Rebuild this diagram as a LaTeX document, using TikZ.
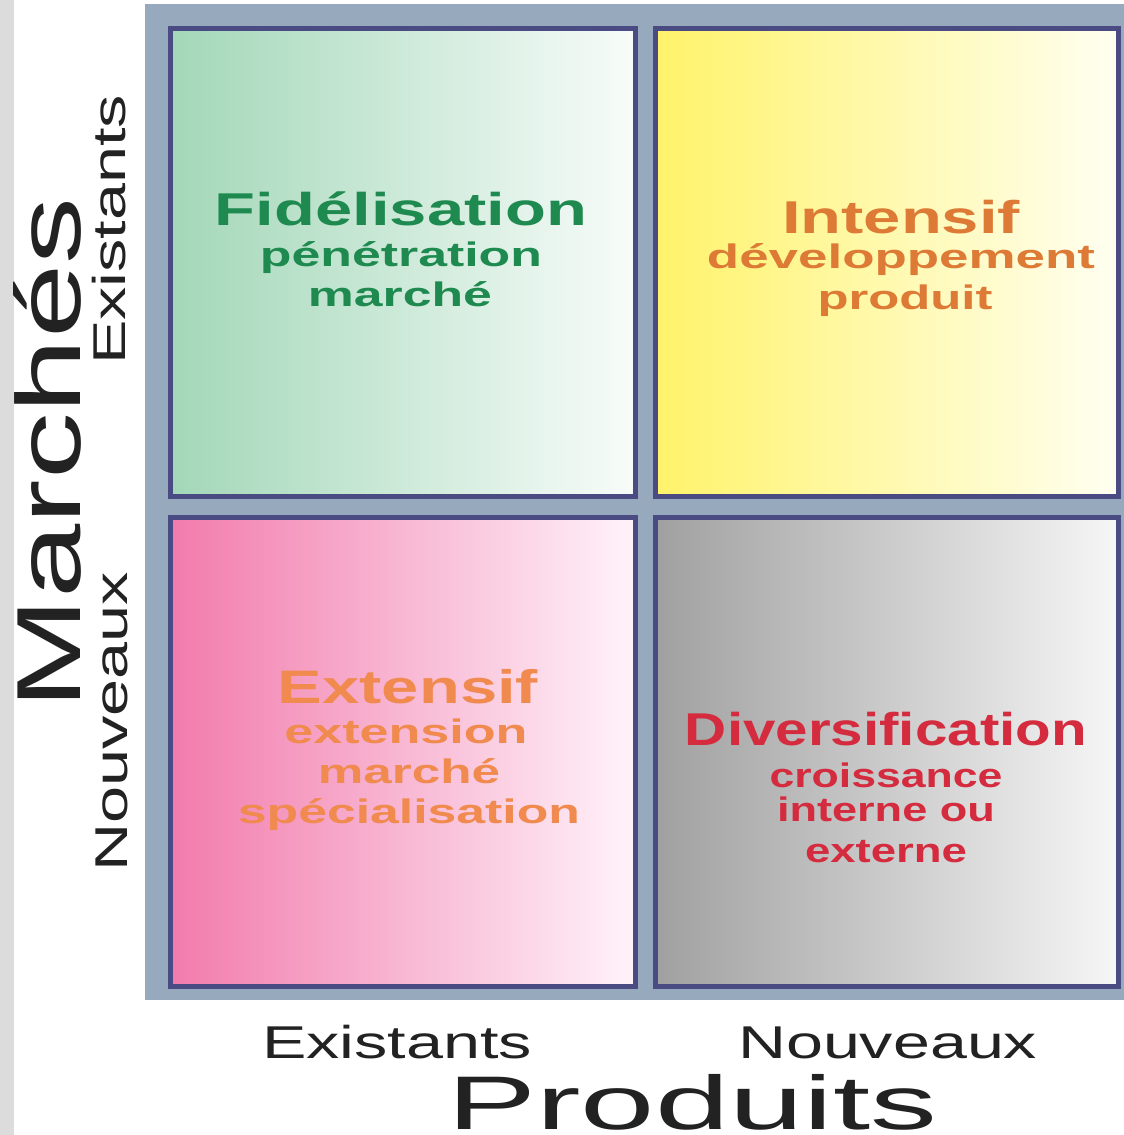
\documentclass[tikz,border=0pt]{standalone}
\usepackage{fontspec}
\setmainfont{Liberation Sans}
\usepackage{graphicx}
\definecolor{stripgrey}{HTML}{DCDCDC}
\definecolor{framecol}{HTML}{97A9BD}
\definecolor{edgecol}{HTML}{4B4B84}
\definecolor{tlL}{HTML}{A3D7B8}
\definecolor{tlR}{HTML}{F8FCFA}
\definecolor{trL}{HTML}{FFF36A}
\definecolor{trR}{HTML}{FFFFF2}
\definecolor{blL}{HTML}{F27BAC}
\definecolor{blR}{HTML}{FFF3FA}
\definecolor{brL}{HTML}{A0A0A0}
\definecolor{brR}{HTML}{F6F6F6}
\definecolor{greentxt}{HTML}{1E8A50}
\definecolor{orangetxt}{HTML}{DD7A35}
\definecolor{salmontxt}{HTML}{F08A4F}
\definecolor{redtxt}{HTML}{D42C3E}
\definecolor{labtxt}{HTML}{222222}
\newcommand{\fitw}[3]{\resizebox{#1pt}{\height}{\fontsize{#2}{#2}\selectfont #3}}
\begin{document}
\begin{tikzpicture}[x=1pt,y=-1pt,
  quad/.style={draw=edgecol, line width=5pt},
  lab/.style={inner sep=0pt, anchor=base},
  ttl/.style={lab, font=\bfseries},
  axis/.style={inner sep=0pt, text=labtxt}]
\useasboundingbox (0,0) rectangle (1124,1135);
\clip (0,0) rectangle (1124,1135);
\fill[white] (0,0) rectangle (1124,1135);
\fill[stripgrey] (0,0) rectangle (14,1135);
\fill[framecol] (145,4) rectangle (1124,1000);
% quadrants
\draw[quad, left color=tlL, right color=tlR] (170,28) rectangle (635,496);
\draw[quad, left color=trL, right color=trR] (655,28) rectangle (1118,496);
\draw[quad, left color=blL, right color=blR] (170,517) rectangle (635,986);
\draw[quad, left color=brL, right color=brR] (655,517) rectangle (1118,986);
% top-left
\node[ttl, text=greentxt] (tla) at (401,225) {\fitw{372}{46}{\bfseries Fidélisation}};
\node[ttl, text=greentxt] (tlb) at (401,266) {\fitw{282}{34}{\bfseries pénétration}};
\node[ttl, text=greentxt] (tlc) at (400,306) {\fitw{184}{34}{\bfseries marché}};
% top-right
\node[ttl, text=orangetxt] (tra) at (901,233) {\fitw{238}{46}{\bfseries Intensif}};
\node[ttl, text=orangetxt] (trb) at (901,268) {\fitw{388}{34}{\bfseries développement}};
\node[ttl, text=orangetxt] (trc) at (905,309) {\fitw{175}{34}{\bfseries produit}};
% bottom-left
\node[ttl, text=salmontxt] (bla) at (408,703) {\fitw{260}{47}{\bfseries Extensif}};
\node[ttl, text=salmontxt] (blb) at (406,743) {\fitw{243}{34}{\bfseries extension}};
\node[ttl, text=salmontxt] (blc) at (409,783) {\fitw{182}{34}{\bfseries marché}};
\node[ttl, text=salmontxt] (bld) at (409,823) {\fitw{342}{34}{\bfseries spécialisation}};
% bottom-right
\node[ttl, text=redtxt] (bra) at (886,745) {\fitw{402}{46}{\bfseries Diversification}};
\node[ttl, text=redtxt] (brb) at (886,787) {\fitw{233}{34}{\bfseries croissance}};
\node[ttl, text=redtxt] (brc) at (886,821) {\fitw{218}{34}{\bfseries interne ou}};
\node[ttl, text=redtxt] (brd) at (886,862) {\fitw{162}{34}{\bfseries externe}};
% axis labels, left
\node[axis, rotate=90, anchor=base west] (mk) at (80,710) {\fitw{512}{91}{Marchés}};
\node[axis, rotate=90, anchor=base west] (mex) at (125,365) {\fitw{270}{46}{Existants}};
\node[axis, rotate=90, anchor=base west] (mnv) at (127,872) {\fitw{300}{46}{Nouveaux}};
% axis labels, bottom
\node[axis, anchor=base west] (pex) at (262,1058) {\fitw{270}{46}{Existants}};
\node[axis, anchor=base west] (pnv) at (738,1058) {\fitw{299}{46}{Nouveaux}};
\node[axis, anchor=base west] (pr) at (447,1129) {\fitw{490}{76}{Produits}};
\end{tikzpicture}
\end{document}
